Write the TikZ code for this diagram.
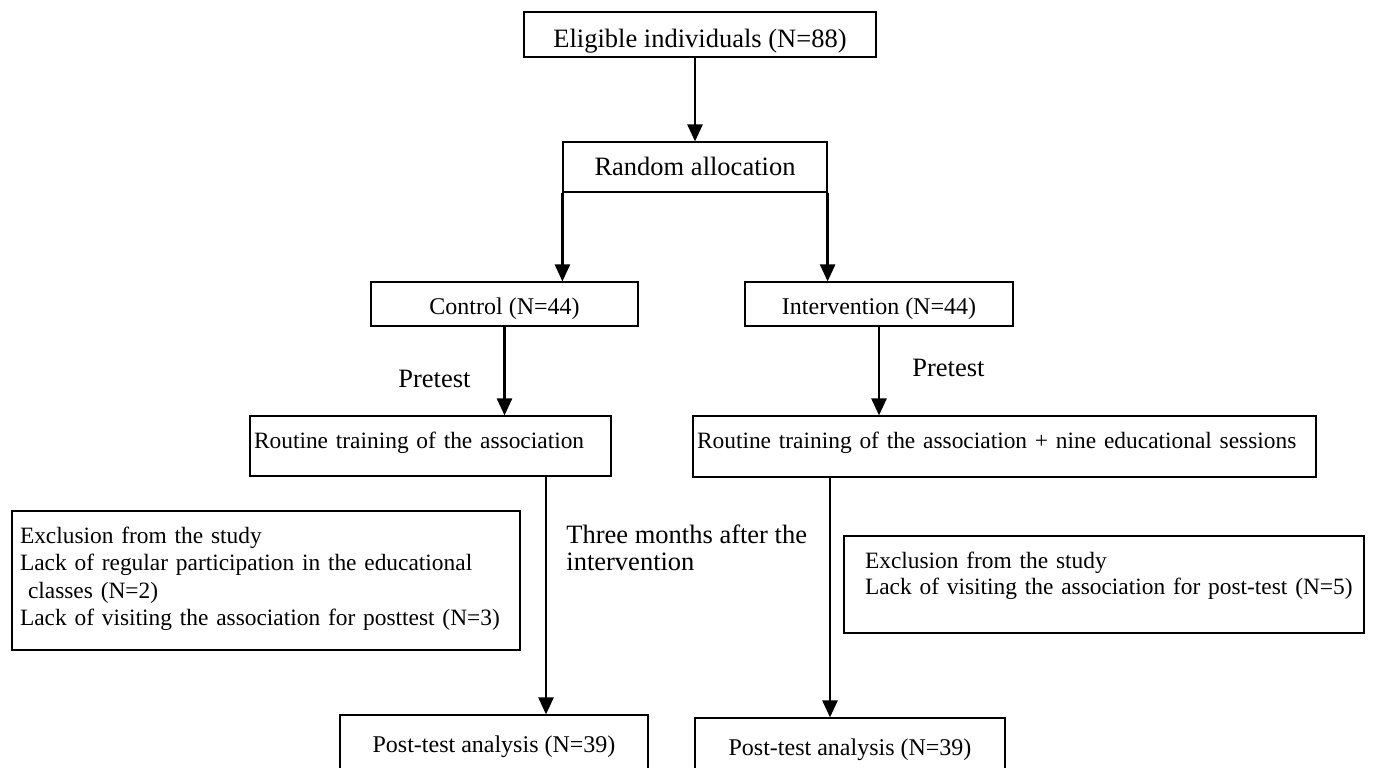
\documentclass[tikz,border=0pt]{standalone}
\usepackage{fontspec}
\setmainfont{Liberation Serif}
\usetikzlibrary{arrows.meta}
\begin{document}
\begin{tikzpicture}[x=0.5pt,y=-0.5pt,
  box/.style={draw,line width=0.6pt,inner sep=0pt,font=\fontsize{12}{13.8}\selectfont},
  bigbox/.style={box,font=\fontsize{13.25}{16}\selectfont},
  smallbox/.style={box,align=left,font=\fontsize{11.7}{13.8}\selectfont},
  note/.style={inner sep=0pt,align=left,font=\fontsize{13.25}{13.5}\selectfont},
  arr/.style={line width=1.3pt,-{Triangle[width=7.5pt,length=8.5pt]}}]
\path[use as bounding box] (0,0) rectangle (1384,767);
\clip (0,0) rectangle (1384,767);
\node[bigbox,minimum width=176pt,text height=17.5pt,text depth=5pt] (elig) at (700,34.5) {Eligible individuals (N=88)};
\node[bigbox,minimum width=132pt,text height=16.9pt,text depth=8.1pt] (rand) at (695,167) {Random allocation};
\node[box,minimum width=133.5pt,text height=16pt,text depth=6pt] (ctrl) at (504.5,304) {Control (N=44)};
\node[box,minimum width=134pt,text height=16pt,text depth=6pt] (intv) at (879,304) {Intervention (N=44)};
\node[smallbox,inner xsep=2pt,text width=176.5pt,text height=16pt,text depth=14pt] (rout1) at (430.5,446) {Routine training of the association};
\node[smallbox,inner xsep=2pt,text width=307.5pt,text height=16pt,text depth=14.5pt] (rout2) at (1004.5,446.5) {Routine training of the association + nine educational sessions};
\node[smallbox,inner xsep=4pt,text width=246pt,text height=16pt,text depth=53.5pt] (excl1) at (266,580.5) {Exclusion from the study\\Lack of regular participation in the educational\\\hspace*{4pt}classes (N=2)\\Lack of visiting the association for posttest (N=3)};
\node[smallbox,inner xsep=2.5pt,text width=255pt,text height=16pt,text depth=32.5pt,font=\fontsize{11.7}{13}\selectfont] (excl2) at (1104,584.5) {\hspace*{8pt}Exclusion from the study\\\hspace*{8pt}Lack of visiting the association for post-test (N=5)};
\node[box,minimum width=154pt,text height=18.5pt,text depth=14pt] (post1) at (494,747.5) {Post-test analysis (N=39)};
\node[box,minimum width=155pt,text height=18.5pt,text depth=12.5pt] (post2) at (850,749) {Post-test analysis (N=39)};
\node[note,anchor=base west] (pre1) at (398,387) {Pretest};
\node[note,anchor=base west] (pre2) at (912,376) {Pretest};
\node[note,anchor=base west] (months) at (566,570) {Three months after the\\intervention};
\coordinate (d1) at (546,0);
\coordinate (d2) at (830,0);
\draw[arr] (rand.north |- elig.south) -- (rand.north);
\foreach \c/\t in {south west/ctrl,south east/intv}
  \draw[arr] (rand.\c) -- (rand.\c |- \t.north);
\draw[arr] (ctrl.south) -- (ctrl.south |- rout1.north);
\draw[arr] (intv.south) -- (intv.south |- rout2.north);
\draw[arr] (rout1.south -| d1) -- (post1.north -| d1);
\draw[arr] (rout2.south -| d2) -- (post2.north -| d2);
\end{tikzpicture}
\end{document}
